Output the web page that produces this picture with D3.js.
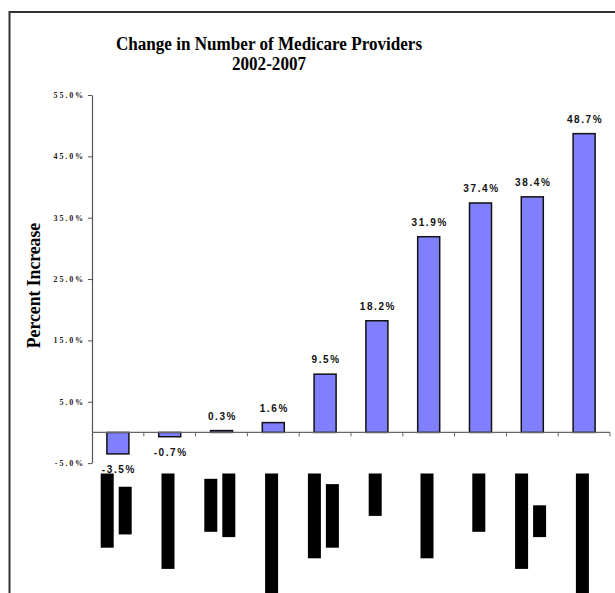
<!DOCTYPE html>
<html>
<head>
<meta charset="utf-8">
<script src="https://cdn.jsdelivr.net/npm/d3@7"></script>
<style>
  html, body { margin: 0; padding: 0; background: #fff; }
  svg { display: block; }
</style>
</head>
<body>
<svg id="chart" width="615" height="593"></svg>
<script>
// ---- data ----
const categories = ["Cat 1", "Cat 2", "Cat 3", "Cat 4", "Cat 5", "Cat 6", "Cat 7", "Cat 8", "Cat 9", "Cat 10"];
const values = [-3.5, -0.7, 0.3, 1.6, 9.5, 18.2, 31.9, 37.4, 38.4, 48.7];
const valueLabels = ["-3.5%", "-0.7%", "0.3%", "1.6%", "9.5%", "18.2%", "31.9%", "37.4%", "38.4%", "48.7%"];
const yTicks = [-5, 5, 15, 25, 35, 45, 55];
// category labels are redacted (black blocks) in the reference: estimated characters per line
const labelLineChars = [[14, 9], [18], [10, 12], [23], [16, 12], [8], [16], [11], [18, 6], [23]];
const titleLines = ["Change in Number of Medicare Providers", "2002-2007"];
const yTitle = "Percent Increase";

// ---- drawing ----
(function () {
const svg = d3.select("#chart");
const plotLeft = 92, plotRight = 610, plotTop = 95, plotBottom = 463.1;

// frame
svg.append("path")
  .attr("d", `M9.5,593 V12 H620`)
  .attr("fill", "none").attr("stroke", "#333").attr("stroke-width", 2);

const x = d3.scaleBand().domain(categories).range([plotLeft, plotRight])
  .paddingInner(0.575).paddingOuter(0.2875);
const y = d3.scaleLinear().domain([-5, 55]).range([plotBottom, plotTop]);

// title (slightly condensed serif)
svg.append("text")
  .attr("transform", "translate(269,50) scale(0.9,1)")
  .attr("text-anchor", "middle")
  .attr("font-family", "'Liberation Serif', 'Times New Roman', serif")
  .attr("font-weight", "bold").attr("font-size", 19)
  .selectAll("tspan").data(titleLines).join("tspan")
  .attr("x", 0).attr("dy", (d, i) => i === 0 ? 0 : 20)
  .text(d => d);

// y axis title
svg.append("text")
  .attr("transform", `translate(40,285.5) rotate(-90) scale(0.93,1)`)
  .attr("text-anchor", "middle")
  .attr("font-family", "'Liberation Serif', 'Times New Roman', serif")
  .attr("font-weight", "bold").attr("font-size", 19)
  .text(yTitle);

// y axis
const yAxis = svg.append("g")
  .attr("transform", `translate(${plotLeft},0)`)
  .call(d3.axisLeft(y).tickValues(yTicks).tickSize(4).tickSizeOuter(0)
    .tickFormat(d => d.toFixed(1) + "%"));
yAxis.select(".domain").attr("stroke", "#555").attr("stroke-width", 1.2);
yAxis.selectAll(".tick line").attr("stroke", "#555");
yAxis.selectAll(".tick text")
  .attr("x", -7)
  .attr("font-family", "'Liberation Serif', 'Times New Roman', serif")
  .attr("font-weight", "bold").attr("font-size", 8)
  .attr("letter-spacing", 1.9)
  .attr("fill", "#222");

// bars
svg.append("g").selectAll("rect").data(values).join("rect")
  .attr("x", (d, i) => x(categories[i]))
  .attr("width", x.bandwidth())
  .attr("y", d => y(Math.max(0, d)))
  .attr("height", d => Math.abs(y(d) - y(0)))
  .attr("fill", "#8080FF")
  .attr("stroke", "#111").attr("stroke-width", 1.5);

// zero line (category axis)
const step = x.step();
svg.append("line")
  .attr("x1", plotLeft).attr("x2", plotRight)
  .attr("y1", y(0)).attr("y2", y(0))
  .attr("stroke", "#666").attr("stroke-width", 1.2);
svg.append("g").selectAll("line").data(d3.range(1, categories.length + 1)).join("line")
  .attr("x1", i => plotLeft + i * step).attr("x2", i => plotLeft + i * step)
  .attr("y1", y(0)).attr("y2", y(0) + 4)
  .attr("stroke", "#666").attr("stroke-width", 1);

// value labels
svg.append("g").selectAll("text").data(values).join("text")
  .attr("x", (d, i) => x(categories[i]) + x.bandwidth() / 2 + 1)
  .attr("y", d => d >= 0 ? y(d) - 11 : y(d) + 19)
  .attr("text-anchor", "middle")
  .attr("font-family", "'Liberation Sans', Arial, sans-serif")
  .attr("font-weight", "bold").attr("font-size", 10)
  .attr("letter-spacing", 1.6)
  .attr("fill", "#111")
  .text((d, i) => valueLabels[i]);

// redacted category labels (black blocks)
const charW = 5.3, lineGap = 18, lineW = 13, labelTop = 473.5;
labelLineChars.forEach((lines, i) => {
  const cx = x(categories[i]) + x.bandwidth() / 2;
  const maxLen = d3.max(lines) * charW;
  const cy = labelTop + maxLen / 2;
  lines.forEach((n, j) => {
    const len = n * charW;
    const lx = cx - 1.7 + (j - (lines.length - 1) / 2) * lineGap;
    svg.append("rect")
      .attr("x", lx - lineW / 2).attr("width", lineW)
      .attr("y", cy - len / 2).attr("height", len)
      .attr("fill", "#000");
  });
});
})();
</script>
</body>
</html>
